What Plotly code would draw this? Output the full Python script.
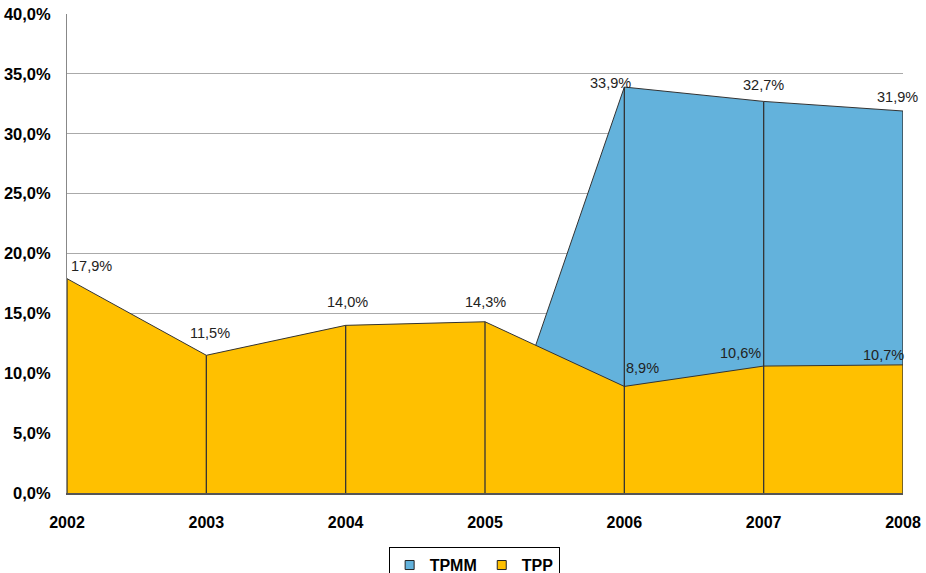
import plotly.graph_objects as go

years = [2002, 2003, 2004, 2005, 2006, 2007, 2008]
tpp = [17.9, 11.5, 14.0, 14.3, 8.9, 10.6, 10.7]
tpmm = [0, 0, 0, 0, 33.9, 32.7, 31.9]
tpmm_labels = [None, None, None, None, "33,9%", "32,7%", "31,9%"]
tpp_labels = ["17,9%", "11,5%", "14,0%", "14,3%", "8,9%", "10,6%", "10,7%"]
y_ticks = [0, 5, 10, 15, 20, 25, 30, 35, 40]

blue = "#63B2DC"
yellow = "#FFC000"
edge = "#333333"
FONT = "Liberation Sans, Arial, sans-serif"

fig = go.Figure()
fig.add_trace(go.Scatter(x=years, y=tpmm, name="TPMM", mode="lines", fill="tozeroy",
                         fillcolor=blue, line=dict(color=edge, width=1), hoverinfo="skip",
                         showlegend=False))
fig.add_trace(go.Scatter(x=years, y=tpp, name="TPP", mode="lines", fill="tozeroy",
                         fillcolor=yellow, line=dict(color=edge, width=1), hoverinfo="skip",
                         showlegend=False))

# vertical drop lines at each category
vx, vy = [], []
for x, a, b in zip(years, tpp, tpmm):
    vx += [x, x, None]
    vy += [0, max(a, b), None]
fig.add_trace(go.Scatter(x=vx, y=vy, mode="lines", line=dict(color=edge, width=1.3),
                         showlegend=False, hoverinfo="skip"))

# legend entries with square swatches
for name, col in [("TPMM", blue), ("TPP", yellow)]:
    fig.add_trace(go.Scatter(x=[None], y=[None], mode="markers", name=name,
                             marker=dict(symbol="square", size=9, color=col,
                                         line=dict(color="#222", width=1))))

# label offsets (pixels) mimicking the original placement
tpp_shift = [(24, 13), (4, 22), (2, 23), (0, 20), (18, 18), (-23, 13), (-20, 10)]
tpmm_shift = [None, None, None, None, (-14, 4), (0, 16), (-6, 14)]
for x, y, t, s in zip(years, tpp, tpp_labels, tpp_shift):
    fig.add_annotation(x=x, y=y, text=t, showarrow=False, xshift=s[0], yshift=s[1],
                       font=dict(size=14.5, color="#222"))
for x, y, t, s in zip(years, tpmm, tpmm_labels, tpmm_shift):
    if t:
        fig.add_annotation(x=x, y=y, text=t, showarrow=False, xshift=s[0], yshift=s[1],
                           font=dict(size=14.5, color="#222"))

fig.update_layout(
    width=926, height=573,
    margin=dict(l=67, r=23, t=14, b=80, autoexpand=False),
    plot_bgcolor="white", paper_bgcolor="white",
    font=dict(family=FONT, color="black"),
    showlegend=True,
    legend=dict(orientation="h", x=0.487, xanchor="center", y=-0.113, yanchor="top",
                bordercolor="black", borderwidth=1, itemwidth=30, tracegroupgap=0,
                font=dict(size=16, color="black", family=FONT, weight="bold"),
                traceorder="normal"),
)
fig.update_xaxes(range=[2002, 2008], tickvals=years, ticktext=[f"<b>{y}</b>" for y in years],
                 tickfont=dict(size=16), showgrid=False, zeroline=False, automargin=False,
                 showline=True, linecolor="#555", linewidth=1.5, ticks="", ticklen=0,
                 ticklabelstandoff=14)
fig.update_yaxes(range=[0, 40], tickvals=y_ticks,
                 ticktext=[f"<b>{v:.1f}%</b>".replace(".", ",") for v in y_ticks],
                 tickfont=dict(size=16.5), showgrid=True, gridcolor="#AAAAAA", gridwidth=1,
                 zeroline=False, showline=True, linecolor="#888", linewidth=1, ticks="",
                 ticklabelstandoff=12, automargin=False)

fig.write_html("out.html", config={"displayModeBar": False},
               post_script="document.body.style.margin='0';document.body.style.overflow='hidden';")
